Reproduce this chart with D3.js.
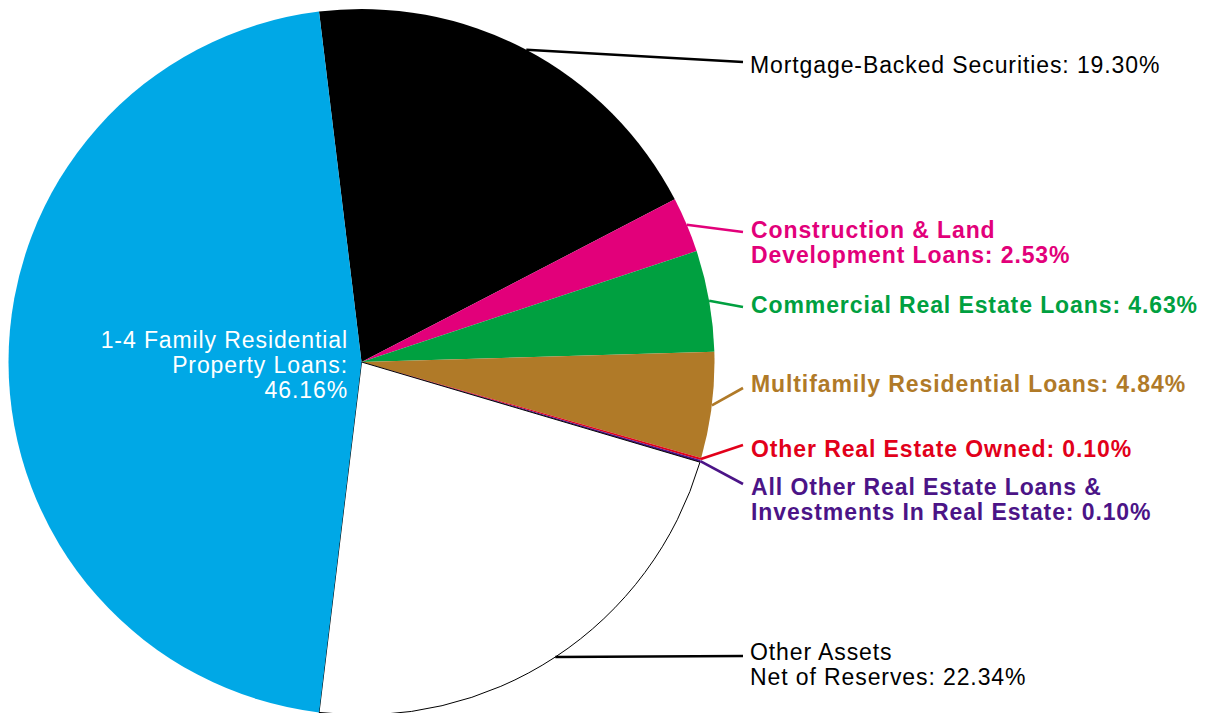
<!DOCTYPE html>
<html>
<head>
<meta charset="utf-8">
<script src="https://cdn.jsdelivr.net/npm/d3@7"></script>
<style>
  html, body { margin: 0; padding: 0; background: #fff; }
  svg { display: block; }
</style>
</head>
<body>
<svg id="chart" width="1212" height="713"></svg>
<script>
// Asset composition (share of total assets, %)
const categories = [
  "Mortgage-Backed Securities",
  "Construction & Land Development Loans",
  "Commercial Real Estate Loans",
  "Multifamily Residential Loans",
  "Other Real Estate Owned",
  "All Other Real Estate Loans & Investments In Real Estate",
  "Other Assets Net of Reserves",
  "1-4 Family Residential Property Loans"
];
const values = [19.30, 2.53, 4.63, 4.84, 0.10, 0.10, 22.34, 46.16];
const sliceColors = ["#000000", "#E2007A", "#00A040", "#B07A28", "#E2001A", "#4B1487", "#FFFFFF", "#00A8E6"];
const labelColors = ["#000000", "#E2007A", "#00A040", "#B07A28", "#E2001A", "#4B1487", "#000000", "#FFFFFF"];
const labelBold = [false, true, true, true, true, true, false, false];
// Label text, one entry per line
const labelLines = [
  ["Mortgage-Backed Securities: 19.30%"],
  ["Construction & Land", "Development Loans: 2.53%"],
  ["Commercial Real Estate Loans: 4.63%"],
  ["Multifamily Residential Loans: 4.84%"],
  ["Other Real Estate Owned: 0.10%"],
  ["All Other Real Estate Loans &", "Investments In Real Estate: 0.10%"],
  ["Other Assets", "Net of Reserves: 22.34%"],
  ["1-4 Family Residential", "Property Loans:", "46.16%"]
];

// Layout
const cx = 361.5, cy = 362, R = 353;
const total = d3.sum(values);
// rotate so the largest slice sits centered on the left side
const offset = -((total - values[7]) / total * 2 * Math.PI - Math.PI) / 2;
const labelX = 750;
const lineH = 25;
const fontSize = 23, tracking = 0.9;
const firstBaseline = [73, 238, 313, 392, 457, 495, 660];
const leaderEndY = [62, 232, 307, 388, 445, 484, 656];

const svg = d3.select("#chart");
const g = svg.append("g").attr("transform", `translate(${cx},${cy})`);

const pie = d3.pie().sort(null).value(d => d)
  .startAngle(offset).endAngle(offset + 2 * Math.PI);
const arcs = pie(values);
const arc = d3.arc().innerRadius(0).outerRadius(R);

g.selectAll("path.slice").data(arcs).join("path")
  .attr("class", "slice")
  .attr("d", arc)
  .attr("fill", (d, i) => sliceColors[i])
  .attr("stroke", (d, i) => sliceColors[i] === "#FFFFFF" ? "#000" : "none")
  .attr("stroke-width", 1);

// leader lines from the slice edge at its mid-angle
arcs.forEach((a, i) => {
  if (i === 7) return;
  const mid = (a.startAngle + a.endAngle) / 2;
  const x0 = R * Math.sin(mid), y0 = -R * Math.cos(mid);
  g.append("line")
    .attr("x1", x0).attr("y1", y0)
    .attr("x2", 743 - cx).attr("y2", leaderEndY[i] - cy)
    .attr("stroke", i === 6 ? "#000" : labelColors[i])
    .attr("stroke-width", 2.6);
});

// outside labels
for (let i = 0; i < 7; i++) {
  const x = labelX + (labelBold[i] ? 1 : 0);
  const t = svg.append("text")
    .attr("x", x)
    .attr("y", firstBaseline[i])
    .attr("fill", labelColors[i])
    .attr("font-family", "Liberation Sans, Arial, sans-serif")
    .attr("font-size", fontSize)
    .attr("letter-spacing", tracking)
    .attr("font-weight", labelBold[i] ? "bold" : "normal");
  labelLines[i].forEach((s, j) => {
    t.append("tspan").attr("x", x)
      .attr("y", firstBaseline[i] + j * lineH).text(s);
  });
}

// inside label for the largest slice
const inside = svg.append("text")
  .attr("text-anchor", "end")
  .attr("fill", labelColors[7])
  .attr("font-family", "Liberation Sans, Arial, sans-serif")
  .attr("font-size", fontSize)
  .attr("letter-spacing", tracking);
labelLines[7].forEach((s, j) => {
  inside.append("tspan").attr("x", 348).attr("y", 348 + j * lineH).text(s);
});
</script>
</body>
</html>
